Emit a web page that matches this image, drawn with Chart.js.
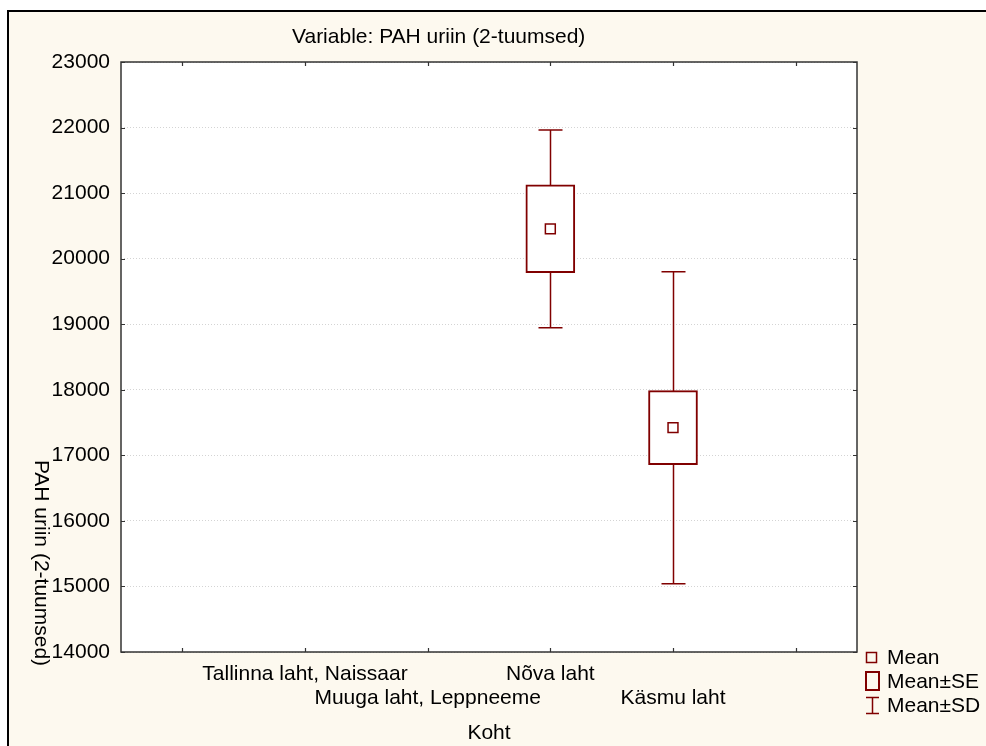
<!DOCTYPE html>
<html>
<head>
<meta charset="utf-8">
<script src="https://cdn.jsdelivr.net/npm/chart.js@4"></script>
<style>
  body { margin: 0; background: #fff; }
  canvas { display: block; }
</style>
</head>
<body>
<canvas id="chart" width="986" height="746"></canvas>
<script>
// data
const categories = ['Tallinna laht, Naissaar', 'Muuga laht, Leppneeme', 'Nõva laht', 'Käsmu laht'];
const means = [null, null, 20455, 17422];
const seValues = [null, null, 670, 566];
const sdValues = [null, null, 1509, 2380];
const yTicks = [14000, 15000, 16000, 17000, 18000, 19000, 20000, 21000, 22000, 23000];

const FONT = "'Liberation Sans', Arial, sans-serif";
const FSIZE = 21;
const RED = '#800000';
const CREAM = '#fdf9ef';

const boxData = [];
const meanData = [];
categories.forEach((c, i) => {
  if (means[i] == null) return;
  boxData.push({ x: i + 1, y: [means[i] - seValues[i], means[i] + seValues[i]] });
  meanData.push({ x: i + 1, y: means[i] });
});

// background, frame, plot area
const backgroundPlugin = {
  id: 'bg',
  beforeDraw(chart) {
    const ctx = chart.ctx, a = chart.chartArea;
    ctx.save();
    ctx.fillStyle = '#fff';
    ctx.fillRect(0, 0, chart.width, chart.height);
    ctx.fillStyle = CREAM;
    ctx.fillRect(8, 10, chart.width, chart.height);
    ctx.strokeStyle = '#000';
    ctx.lineWidth = 2;
    ctx.strokeRect(8, 11, chart.width + 20, chart.height + 20);
    ctx.fillStyle = '#fff';
    ctx.fillRect(a.left, a.top, a.right - a.left, a.bottom - a.top);
    ctx.restore();
  }
};

// SD whiskers (drawn under the SE boxes)
const whiskerPlugin = {
  id: 'whiskers',
  beforeDatasetsDraw(chart) {
    const ctx = chart.ctx, xs = chart.scales.x, ys = chart.scales.y;
    ctx.save();
    ctx.strokeStyle = RED;
    ctx.lineWidth = 1.5;
    categories.forEach((c, i) => {
      if (means[i] == null) return;
      const x = Math.round(xs.getPixelForValue(i + 1)) + 0.5;
      const top = ys.getPixelForValue(means[i] + sdValues[i]);
      const bot = ys.getPixelForValue(means[i] - sdValues[i]);
      ctx.beginPath();
      ctx.moveTo(x, top); ctx.lineTo(x, bot);
      ctx.moveTo(x - 12, top); ctx.lineTo(x + 12, top);
      ctx.moveTo(x - 12, bot); ctx.lineTo(x + 12, bot);
      ctx.stroke();
    });
    ctx.restore();
  }
};

// axes frame, inward ticks, texts, legend
const decorPlugin = {
  id: 'decor',
  afterDraw(chart) {
    const ctx = chart.ctx, a = chart.chartArea, xs = chart.scales.x, ys = chart.scales.y;
    ctx.save();
    ctx.strokeStyle = '#333';
    ctx.lineWidth = 1.5;
    ctx.strokeRect(a.left, a.top, a.right - a.left, a.bottom - a.top);
    ctx.lineWidth = 1.2;
    ctx.beginPath();
    yTicks.forEach(v => {
      const y = Math.round(ys.getPixelForValue(v)) + 0.5;
      ctx.moveTo(a.left, y); ctx.lineTo(a.left + 4, y);
      ctx.moveTo(a.right, y); ctx.lineTo(a.right - 4, y);
    });
    for (let k = 0; k <= categories.length + 1; k++) {
      const x = Math.round(xs.getPixelForValue(k)) + 0.5;
      ctx.moveTo(x, a.top); ctx.lineTo(x, a.top + 4);
      ctx.moveTo(x, a.bottom); ctx.lineTo(x, a.bottom - 4);
    }
    ctx.stroke();

    ctx.fillStyle = '#000';
    ctx.font = FSIZE + 'px ' + FONT;
    ctx.textBaseline = 'middle';
    ctx.textAlign = 'left';
    ctx.fillText('Variable: PAH uriin (2-tuumsed)', 292, 37);

    // y axis title, reading downwards
    ctx.save();
    ctx.translate(41, 563);
    ctx.rotate(Math.PI / 2);
    ctx.textAlign = 'center';
    ctx.fillText('PAH uriin (2-tuumsed)', 0, 0);
    ctx.restore();

    ctx.textAlign = 'center';
    ctx.fillText('Koht', (a.left + a.right) / 2, 733);

    // legend
    ctx.textAlign = 'left';
    ctx.strokeStyle = RED;
    ctx.lineWidth = 1.5;
    ctx.strokeRect(866.5, 652.5, 10, 10);
    ctx.lineWidth = 2;
    ctx.strokeRect(866, 672, 13, 18);
    ctx.lineWidth = 1.5;
    ctx.beginPath();
    ctx.moveTo(866, 697.5); ctx.lineTo(879, 697.5);
    ctx.moveTo(866, 713.5); ctx.lineTo(879, 713.5);
    ctx.moveTo(872.5, 697.5); ctx.lineTo(872.5, 713.5);
    ctx.stroke();
    ctx.fillText('Mean', 887, 658);
    ctx.fillText('Mean±SE', 887, 682);
    ctx.fillText('Mean±SD', 887, 706);
    ctx.restore();
  }
};

new Chart(document.getElementById('chart'), {
  type: 'bar',
  data: {
    datasets: [
      {
        type: 'scatter',
        label: 'Mean',
        data: meanData,
        pointStyle: 'rect',
        pointRadius: 7,
        backgroundColor: '#fff',
        borderColor: RED,
        borderWidth: 1.5
      },
      {
        label: 'Mean±SE',
        data: boxData,
        backgroundColor: '#fff',
        borderColor: RED,
        borderWidth: 2,
        borderSkipped: false,
        barThickness: 49
      }
    ]
  },
  options: {
    responsive: false,
    animation: false,
    events: [],
    layout: { padding: { top: 62, right: 129, left: 0, bottom: 0 } },
    plugins: { legend: { display: false }, tooltip: { enabled: false } },
    scales: {
      x: {
        type: 'linear',
        offset: false,
        min: -0.5,
        max: categories.length + 1.5,
        afterFit(scale) { scale.height = 94; },
        afterBuildTicks(scale) {
          scale.ticks = [0, 1, 2, 3, 4, 5].map(v => ({ value: v }));
        },
        grid: { display: false, drawTicks: false, offset: false },
        border: { display: false },
        ticks: {
          autoSkip: false,
          maxRotation: 0,
          padding: 10,
          color: '#000',
          font: { family: FONT, size: FSIZE, lineHeight: 1.15 },
          callback(v) {
            const name = categories[v - 1];
            if (!name) return '';
            return v % 2 === 1 ? [name, ''] : ['', name];
          }
        }
      },
      y: {
        min: 14000,
        max: 23000,
        afterFit(scale) { scale.width = 121; },
        afterBuildTicks(scale) { scale.ticks = yTicks.map(v => ({ value: v })); },
        grid: { color: '#d4d4d4', lineWidth: 1, drawTicks: false },
        border: { display: false, dash: [1, 2] },
        ticks: {
          padding: 11,
          color: '#000',
          font: { family: FONT, size: FSIZE },
          callback: v => String(v)
        }
      }
    }
  },
  plugins: [backgroundPlugin, whiskerPlugin, decorPlugin]
});
</script>
</body>
</html>
